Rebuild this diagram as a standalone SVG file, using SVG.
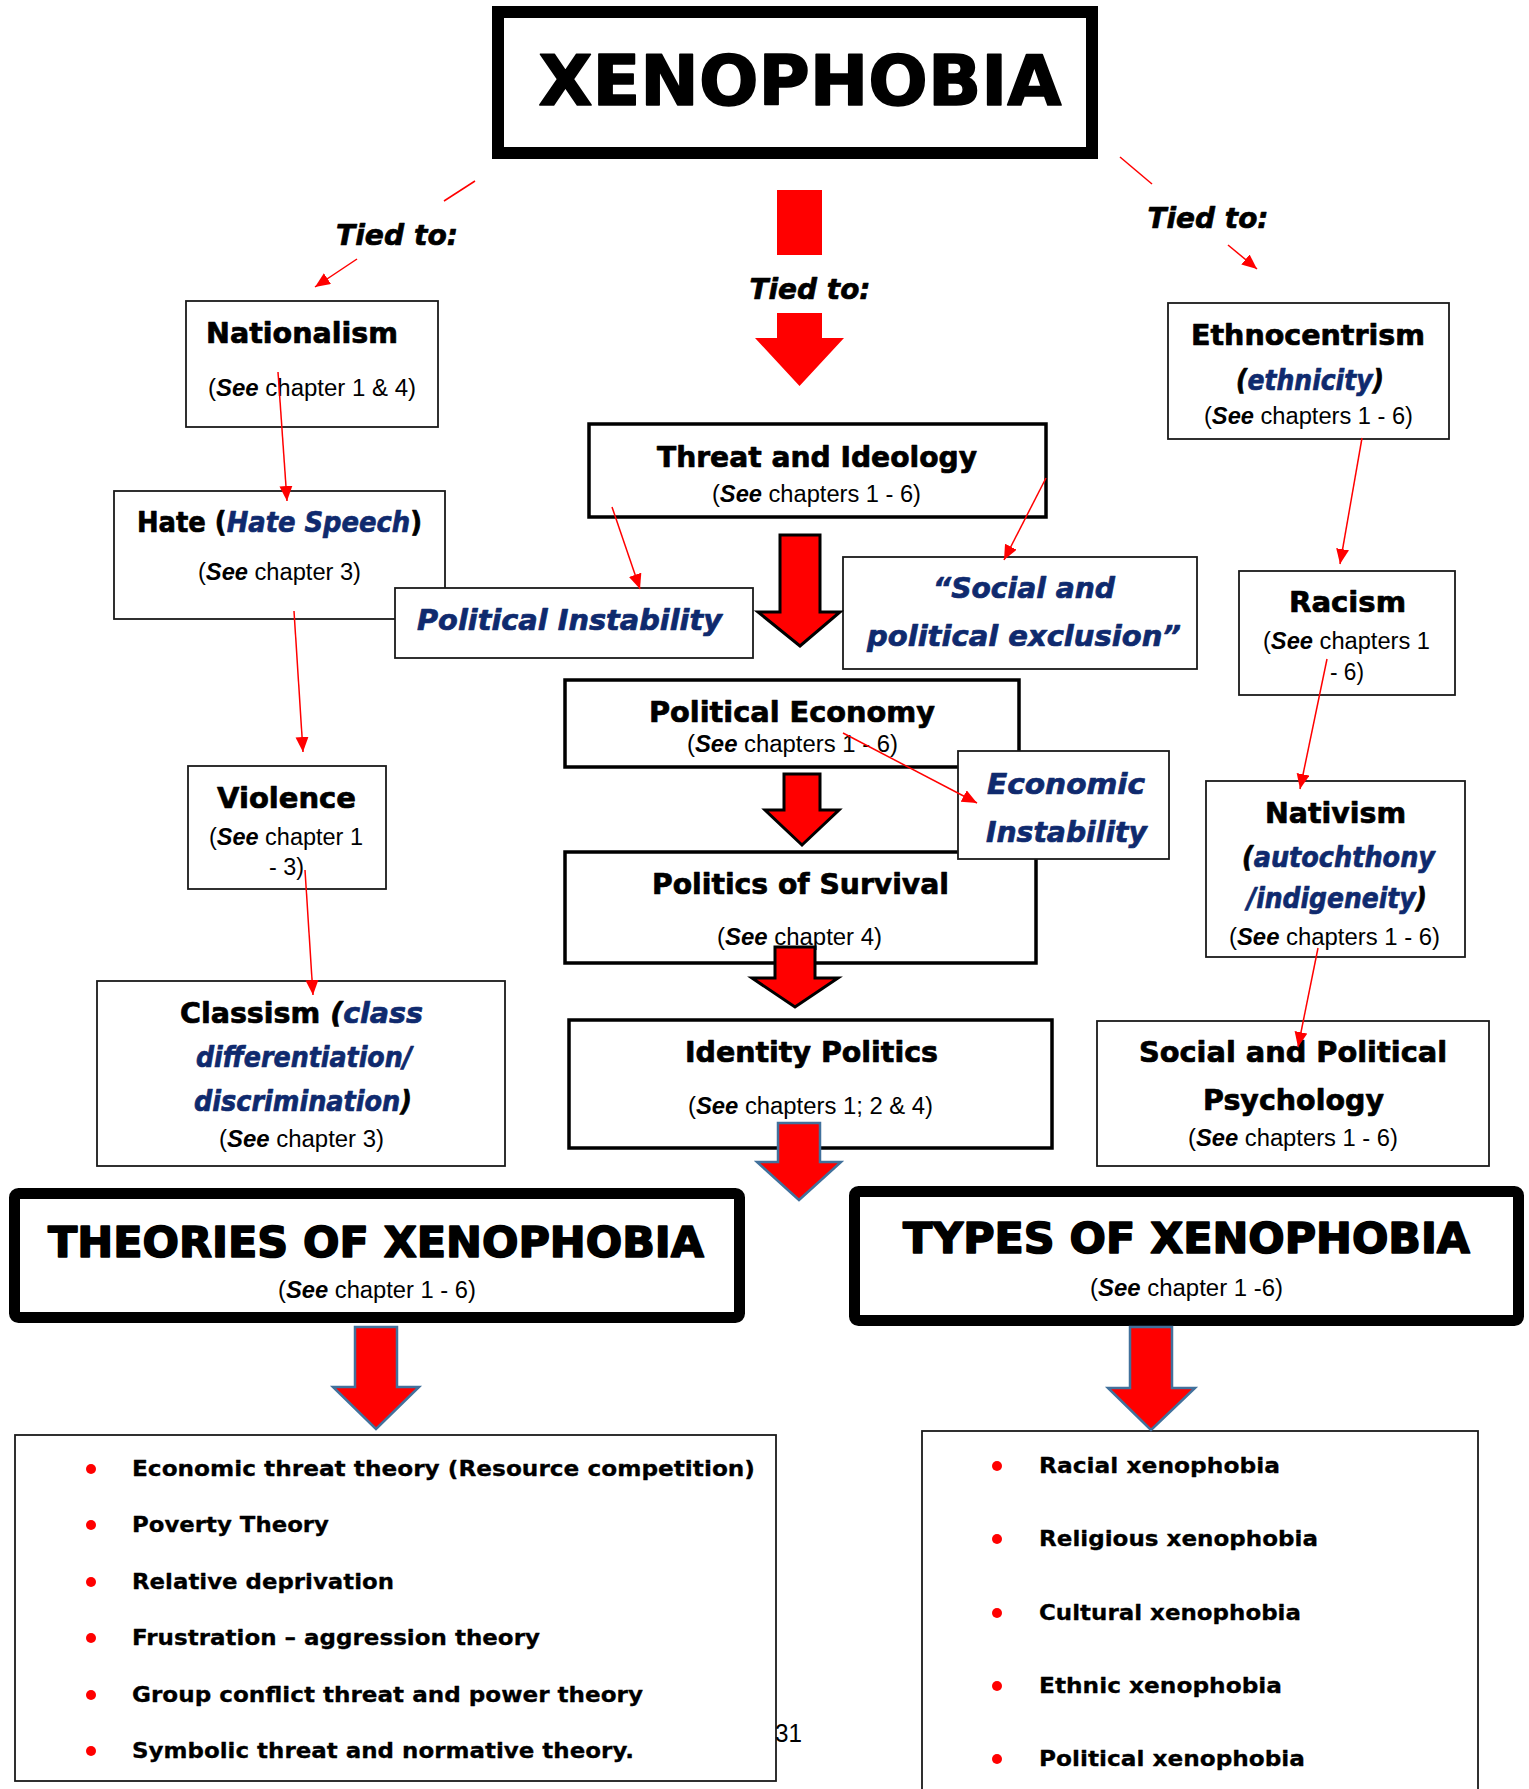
<svg xmlns="http://www.w3.org/2000/svg" width="1529" height="1789" viewBox="0 0 1529 1789">
  <style>
    .box { fill: #fff; stroke: #1a1a1a; stroke-width: 1.8; }
    .bbox { fill: #fff; stroke: #000; stroke-width: 3.5; }
    .frame { fill: #fff; stroke: #000; }
    .h { font-family: "DejaVu Sans", "Liberation Sans", sans-serif; font-weight: bold; fill: #000; stroke: #000; stroke-width: 0.7; stroke-linejoin: round; }
    .big { stroke-width: 1.6; }
    .li { stroke-width: 0.3; }
    .it { font-style: italic; }
    .nv { fill: #0F2A6E; stroke: #0F2A6E; }
    .ref { font-family: "Liberation Sans", Arial, sans-serif; font-size: 23px; fill: #000; }
    .see { font-weight: bold; font-style: italic; }
    .link { stroke: #f00; stroke-width: 1.5; fill: none; }
    .arr { marker-end: url(#head); }
    .blk { fill: #f00; stroke: #000; stroke-width: 3; stroke-linejoin: miter; }
    .blu { fill: #f00; stroke: #41719C; stroke-width: 2.5; stroke-linejoin: miter; }
    .solid { fill: #f00; stroke: none; }
    .dot { fill: #f00; }
  </style>
  <defs>
    <marker id="head" markerUnits="userSpaceOnUse" markerWidth="16" markerHeight="14" refX="15" refY="6.5" orient="auto">
      <path d="M0,0 L15,6.5 L0,13 z" fill="#f00"/>
    </marker>
  </defs>

  <rect width="1529" height="1789" fill="#fff"/>

  <!-- title -->
  <g id="xenophobia">
    <rect class="frame" x="498" y="12" width="594" height="141" stroke-width="12"/>
    <text class="h big" x="800" y="105" font-size="69" text-anchor="middle" textLength="523" lengthAdjust="spacingAndGlyphs">XENOPHOBIA</text>
  </g>

  <g id="tied-labels">
    <text class="h it" x="397" y="245" font-size="29" text-anchor="middle" textLength="122" lengthAdjust="spacingAndGlyphs">Tied to:</text>
    <text class="h it" x="810" y="299" font-size="29" text-anchor="middle" textLength="121" lengthAdjust="spacingAndGlyphs">Tied to:</text>
    <text class="h it" x="1208" y="228" font-size="29" text-anchor="middle" textLength="121" lengthAdjust="spacingAndGlyphs">Tied to:</text>
  </g>

  <g id="nationalism">
    <rect class="box" x="186" y="301" width="252" height="126"/>
    <text class="h" x="302" y="343" font-size="28" text-anchor="middle" textLength="192" lengthAdjust="spacingAndGlyphs">Nationalism</text>
    <text class="ref" x="312" y="396" text-anchor="middle" textLength="208" lengthAdjust="spacingAndGlyphs">(<tspan class="see">See</tspan> chapter 1 &amp; 4)</text>
  </g>

  <g id="hate">
    <rect class="box" x="114" y="491" width="331" height="128"/>
    <text class="h" x="279.5" y="532" font-size="28" text-anchor="middle" textLength="285" lengthAdjust="spacingAndGlyphs">Hate (<tspan class="it nv">Hate Speech</tspan>)</text>
    <text class="ref" x="279.5" y="580" text-anchor="middle" textLength="163" lengthAdjust="spacingAndGlyphs">(<tspan class="see">See</tspan> chapter 3)</text>
  </g>

  <g id="political-instability">
    <rect class="box" x="395" y="588" width="358" height="70"/>
    <text class="h it nv" x="569.5" y="630" font-size="28" text-anchor="middle" textLength="305" lengthAdjust="spacingAndGlyphs">Political Instability</text>
  </g>

  <g id="violence">
    <rect class="box" x="188" y="766" width="198" height="123"/>
    <text class="h" x="286.5" y="808" font-size="28" text-anchor="middle" textLength="139" lengthAdjust="spacingAndGlyphs">Violence</text>
    <text class="ref" x="286" y="845" text-anchor="middle" textLength="154" lengthAdjust="spacingAndGlyphs">(<tspan class="see">See</tspan> chapter 1</text>
    <text class="ref" x="286.5" y="875" text-anchor="middle" textLength="35" lengthAdjust="spacingAndGlyphs">- 3)</text>
  </g>

  <g id="classism">
    <rect class="box" x="97" y="981" width="408" height="185"/>
    <text class="h" x="301.5" y="1023" font-size="28" text-anchor="middle" textLength="243" lengthAdjust="spacingAndGlyphs">Classism <tspan class="it">(</tspan><tspan class="it nv">class</tspan></text>
    <text class="h it nv" x="304" y="1067" font-size="28" text-anchor="middle" textLength="216" lengthAdjust="spacingAndGlyphs">differentiation/</text>
    <text class="h it" x="303" y="1111" font-size="28" text-anchor="middle" textLength="218" lengthAdjust="spacingAndGlyphs"><tspan class="nv">discrimination</tspan>)</text>
    <text class="ref" x="301.5" y="1147" text-anchor="middle" textLength="165" lengthAdjust="spacingAndGlyphs">(<tspan class="see">See</tspan> chapter 3)</text>
  </g>

  <g id="threat-ideology">
    <rect class="bbox" x="589" y="424" width="457" height="93"/>
    <text class="h" x="817" y="467" font-size="28" text-anchor="middle" textLength="320" lengthAdjust="spacingAndGlyphs">Threat and Ideology</text>
    <text class="ref" x="816.5" y="502" text-anchor="middle" textLength="209" lengthAdjust="spacingAndGlyphs">(<tspan class="see">See</tspan> chapters 1 - 6)</text>
  </g>

  <g id="social-exclusion">
    <rect class="box" x="843" y="557" width="354" height="112"/>
    <text class="h it nv" x="1024" y="598" font-size="28" text-anchor="middle" textLength="182" lengthAdjust="spacingAndGlyphs">“Social and</text>
    <text class="h it nv" x="1024" y="646" font-size="28" text-anchor="middle" textLength="314" lengthAdjust="spacingAndGlyphs">political exclusion”</text>
  </g>

  <g id="political-economy">
    <rect class="bbox" x="565" y="680" width="454" height="87"/>
    <text class="h" x="792" y="722" font-size="28" text-anchor="middle" textLength="286" lengthAdjust="spacingAndGlyphs">Political Economy</text>
    <text class="ref" x="792.5" y="752" text-anchor="middle" textLength="211" lengthAdjust="spacingAndGlyphs">(<tspan class="see">See</tspan> chapters 1 - 6)</text>
  </g>

  <g id="politics-survival">
    <rect class="bbox" x="565" y="852" width="471" height="111"/>
    <text class="h" x="800.5" y="894" font-size="28" text-anchor="middle" textLength="297" lengthAdjust="spacingAndGlyphs">Politics of Survival</text>
    <text class="ref" x="799.5" y="945" text-anchor="middle" textLength="165" lengthAdjust="spacingAndGlyphs">(<tspan class="see">See</tspan> chapter 4)</text>
  </g>

  <g id="economic-instability">
    <rect class="box" x="958" y="751" width="211" height="108"/>
    <text class="h it nv" x="1066" y="794" font-size="28" text-anchor="middle" textLength="158" lengthAdjust="spacingAndGlyphs">Economic</text>
    <text class="h it nv" x="1066.5" y="842" font-size="28" text-anchor="middle" textLength="161" lengthAdjust="spacingAndGlyphs">Instability</text>
  </g>

  <g id="identity-politics">
    <rect class="bbox" x="569" y="1020" width="483" height="128"/>
    <text class="h" x="811.5" y="1062" font-size="28" text-anchor="middle" textLength="253" lengthAdjust="spacingAndGlyphs">Identity Politics</text>
    <text class="ref" x="810.5" y="1114" text-anchor="middle" textLength="245" lengthAdjust="spacingAndGlyphs">(<tspan class="see">See</tspan> chapters 1; 2 &amp; 4)</text>
  </g>

  <g id="ethnocentrism">
    <rect class="box" x="1168" y="303" width="281" height="136"/>
    <text class="h" x="1308" y="345" font-size="28" text-anchor="middle" textLength="234" lengthAdjust="spacingAndGlyphs">Ethnocentrism</text>
    <text class="h it" x="1310" y="390" font-size="28" text-anchor="middle" textLength="148" lengthAdjust="spacingAndGlyphs">(<tspan class="nv">ethnicity</tspan>)</text>
    <text class="ref" x="1308.5" y="424" text-anchor="middle" textLength="209" lengthAdjust="spacingAndGlyphs">(<tspan class="see">See</tspan> chapters 1 - 6)</text>
  </g>

  <g id="racism">
    <rect class="box" x="1239" y="571" width="216" height="124"/>
    <text class="h" x="1347.5" y="612" font-size="28" text-anchor="middle" textLength="117" lengthAdjust="spacingAndGlyphs">Racism</text>
    <text class="ref" x="1346.5" y="649" text-anchor="middle" textLength="167" lengthAdjust="spacingAndGlyphs">(<tspan class="see">See</tspan> chapters 1</text>
    <text class="ref" x="1347" y="680" text-anchor="middle" textLength="34" lengthAdjust="spacingAndGlyphs">- 6)</text>
  </g>

  <g id="nativism">
    <rect class="box" x="1206" y="781" width="259" height="176"/>
    <text class="h" x="1335.5" y="823" font-size="28" text-anchor="middle" textLength="141" lengthAdjust="spacingAndGlyphs">Nativism</text>
    <text class="h it" x="1338.5" y="867" font-size="28" text-anchor="middle" textLength="193" lengthAdjust="spacingAndGlyphs">(<tspan class="nv">autochthony</tspan></text>
    <text class="h it" x="1337" y="908" font-size="28" text-anchor="middle" textLength="180" lengthAdjust="spacingAndGlyphs"><tspan class="nv">/indigeneity</tspan>)</text>
    <text class="ref" x="1334.5" y="945" text-anchor="middle" textLength="211" lengthAdjust="spacingAndGlyphs">(<tspan class="see">See</tspan> chapters 1 - 6)</text>
  </g>

  <g id="social-political-psychology">
    <rect class="box" x="1097" y="1021" width="392" height="145"/>
    <text class="h" x="1293" y="1062" font-size="28" text-anchor="middle" textLength="308" lengthAdjust="spacingAndGlyphs">Social and Political</text>
    <text class="h" x="1293.5" y="1110" font-size="28" text-anchor="middle" textLength="181" lengthAdjust="spacingAndGlyphs">Psychology</text>
    <text class="ref" x="1293" y="1146" text-anchor="middle" textLength="210" lengthAdjust="spacingAndGlyphs">(<tspan class="see">See</tspan> chapters 1 - 6)</text>
  </g>

  <g id="theories">
    <rect class="frame" x="14.5" y="1193.5" width="725" height="124" rx="4" stroke-width="11"/>
    <text class="h big" x="376" y="1257" font-size="42" text-anchor="middle" textLength="656" lengthAdjust="spacingAndGlyphs">THEORIES OF XENOPHOBIA</text>
    <text class="ref" x="377" y="1298" text-anchor="middle" textLength="198" lengthAdjust="spacingAndGlyphs">(<tspan class="see">See</tspan> chapter 1 - 6)</text>
  </g>

  <g id="types">
    <rect class="frame" x="854.5" y="1191.5" width="664" height="129" rx="4" stroke-width="11"/>
    <text class="h big" x="1186.5" y="1253" font-size="42" text-anchor="middle" textLength="567" lengthAdjust="spacingAndGlyphs">TYPES OF XENOPHOBIA</text>
    <text class="ref" x="1186.5" y="1296" text-anchor="middle" textLength="193" lengthAdjust="spacingAndGlyphs">(<tspan class="see">See</tspan> chapter 1 -6)</text>
  </g>

  <g id="theory-list">
    <rect class="box" x="15" y="1435" width="761" height="346"/>
    <circle class="dot" cx="91" cy="1469" r="5"/>
    <text class="h li" x="132" y="1476" font-size="22" textLength="623" lengthAdjust="spacingAndGlyphs">Economic threat theory (Resource competition)</text>
    <circle class="dot" cx="91" cy="1525" r="5"/>
    <text class="h li" x="132" y="1532" font-size="22" textLength="197" lengthAdjust="spacingAndGlyphs">Poverty Theory</text>
    <circle class="dot" cx="91" cy="1582" r="5"/>
    <text class="h li" x="132" y="1589" font-size="22" textLength="262" lengthAdjust="spacingAndGlyphs">Relative deprivation</text>
    <circle class="dot" cx="91" cy="1638" r="5"/>
    <text class="h li" x="132" y="1645" font-size="22" textLength="408" lengthAdjust="spacingAndGlyphs">Frustration – aggression theory</text>
    <circle class="dot" cx="91" cy="1695" r="5"/>
    <text class="h li" x="132" y="1702" font-size="22" textLength="511" lengthAdjust="spacingAndGlyphs">Group conflict threat and power theory</text>
    <circle class="dot" cx="91" cy="1751" r="5"/>
    <text class="h li" x="132" y="1758" font-size="22" textLength="502" lengthAdjust="spacingAndGlyphs">Symbolic threat and normative theory.</text>
  </g>

  <g id="type-list">
    <rect class="box" x="922" y="1431" width="556" height="380"/>
    <circle class="dot" cx="997" cy="1466" r="5"/>
    <text class="h li" x="1039" y="1473" font-size="22" textLength="241" lengthAdjust="spacingAndGlyphs">Racial xenophobia</text>
    <circle class="dot" cx="997" cy="1539" r="5"/>
    <text class="h li" x="1039" y="1546" font-size="22" textLength="279" lengthAdjust="spacingAndGlyphs">Religious xenophobia</text>
    <circle class="dot" cx="997" cy="1613" r="5"/>
    <text class="h li" x="1039" y="1620" font-size="22" textLength="262" lengthAdjust="spacingAndGlyphs">Cultural xenophobia</text>
    <circle class="dot" cx="997" cy="1686" r="5"/>
    <text class="h li" x="1039" y="1693" font-size="22" textLength="243" lengthAdjust="spacingAndGlyphs">Ethnic xenophobia</text>
    <circle class="dot" cx="997" cy="1759" r="5"/>
    <text class="h li" x="1039" y="1766" font-size="22" textLength="266" lengthAdjust="spacingAndGlyphs">Political xenophobia</text>
  </g>

  <text class="ref" x="775" y="1742" style="font-size:26px" textLength="27" lengthAdjust="spacingAndGlyphs">31</text>

  <!-- connectors: block arrows and red links -->
  <g id="connectors">
    <rect class="solid" x="777" y="190" width="45" height="65"/>
    <polygon class="solid" points="777,313 822,313 822,338 844,338 799.5,386 755,338 777,338"/>
    <polygon class="blk" points="780,535 820,535 820,612 840,612 800,646 758,612 780,612"/>
    <polygon class="blk" points="784,774 820,774 820,810 839,810 802,845 765,810 784,810"/>
    <polygon class="blk" points="775,947 815,947 815,978 838,978 795,1007 752,978 775,978"/>
    <polygon class="blu" points="778,1123 820,1123 820,1162 841,1162 799,1200 757,1162 778,1162"/>
    <polygon class="blu" points="355,1327 397,1327 397,1387 419,1387 376,1429 333,1387 355,1387"/>
    <polygon class="blu" points="1130,1327 1172,1327 1172,1388 1195,1388 1151,1430 1108,1388 1130,1388"/>

    <line class="link" x1="475" y1="181" x2="444" y2="201"/>
    <line class="link arr" x1="357" y1="259" x2="315" y2="287"/>
    <line class="link" x1="1120" y1="157" x2="1152" y2="184"/>
    <line class="link arr" x1="1228" y1="245" x2="1257" y2="269"/>
    <line class="link arr" x1="278" y1="372" x2="287" y2="501"/>
    <line class="link arr" x1="612" y1="507" x2="640" y2="589"/>
    <line class="link arr" x1="294" y1="611" x2="303" y2="752"/>
    <line class="link arr" x1="305" y1="870" x2="313" y2="995"/>
    <line class="link arr" x1="1046" y1="478" x2="1004" y2="560"/>
    <line class="link arr" x1="1362" y1="438" x2="1340" y2="564"/>
    <line class="link arr" x1="1327" y1="659" x2="1300" y2="789"/>
    <line class="link arr" x1="843" y1="733" x2="977" y2="803"/>
    <line class="link arr" x1="1318" y1="948" x2="1298" y2="1047"/>
  </g>
</svg>
